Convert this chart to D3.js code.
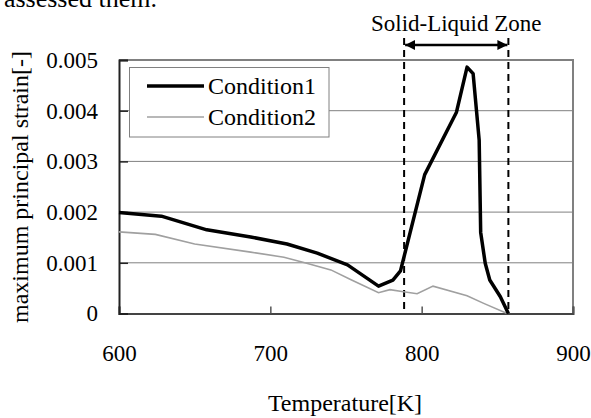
<!DOCTYPE html>
<html>
<head>
<meta charset="utf-8">
<script src="https://cdn.jsdelivr.net/npm/d3@7"></script>
<style>
  body { margin: 0; background: #fff; }
  svg { display: block; font-family: "Liberation Serif", "Times New Roman", serif; }
</style>
</head>
<body>
<div class="chart"></div>
<script>
// Condition1 (thick black) - temperature [K] and strain
const temp1 = [600, 628, 658, 687, 711, 731, 751, 771.5, 781, 786, 802, 823, 830, 834, 838, 839, 842, 845, 852, 857.3];
const strain1 = [0.00199, 0.00192, 0.00165, 0.00151, 0.00137, 0.00119, 0.00096, 0.00054, 0.00066, 0.00084,
                 0.00274, 0.00397, 0.00486, 0.00473, 0.00342, 0.00160, 0.00099, 0.00066, 0.00033, 0];

// Condition2 (thin gray)
const temp2 = [600, 624, 650, 687, 709, 724, 740, 753, 771.5, 779, 788, 797, 807.5, 830, 841, 856.5];
const strain2 = [0.00161, 0.00156, 0.00137, 0.00121, 0.00111, 0.00099, 0.00086, 0.00067, 0.00041, 0.00047,
                 0.00043, 0.00039, 0.00054, 0.00035, 0.00020, 0];

const xTicks = [600, 700, 800, 900];
const yTicks = [0, 0.001, 0.002, 0.003, 0.004, 0.005];
const seriesNames = ["Condition1", "Condition2"];
const zoneRange = [788.4, 857.3]; // solid-liquid zone bounds

const width = 591;
const height = 418;
const plotLeft = 119, plotRight = 573, plotTop = 60, plotBottom = 313.5;

const svg = d3.select(".chart")
    .append("svg")
    .attr("width", width)
    .attr("height", height);

const x = d3.scaleLinear().domain([600, 900]).range([plotLeft, plotRight]);
const y = d3.scaleLinear().domain([0, 0.005]).range([plotBottom, plotTop]);

// clipped line of the surrounding paper text
svg.append("text")
    .attr("x", 157)
    .attr("y", 7)
    .attr("text-anchor", "end")
    .attr("font-size", 26)
    .text("assessed them.");

// gridlines
svg.append("g")
    .selectAll("line")
    .data(yTicks.filter(d => d > 0 && d < 0.005))
    .join("line")
    .attr("x1", plotLeft).attr("x2", plotRight)
    .attr("y1", d => y(d)).attr("y2", d => y(d))
    .attr("stroke", "#808080")
    .attr("stroke-width", 1);

// top and right frame
svg.append("path")
    .attr("d", `M${plotLeft},${plotTop}H${plotRight}V${plotBottom}`)
    .attr("fill", "none")
    .attr("stroke", "#808080")
    .attr("stroke-width", 2);

// axes, ticks pointing inward
const yAxis = d3.axisLeft(y)
    .tickValues(yTicks)
    .tickFormat(d => d === 0 ? "0" : d3.format(".3f")(d))
    .tickSize(-9)
    .tickPadding(21);
const xAxis = d3.axisBottom(x)
    .tickValues(xTicks)
    .tickSize(-7)
    .tickPadding(31);

const gx = svg.append("g")
    .attr("transform", `translate(0,${plotBottom})`)
    .call(xAxis)
    .attr("font-family", "Liberation Serif")
    .attr("font-size", 23);
gx.select(".domain").attr("stroke", "#444").attr("stroke-width", 2);
gx.selectAll(".tick line").attr("stroke", "#555").attr("stroke-width", 1.5);

const gy = svg.append("g")
    .attr("transform", `translate(${plotLeft},0)`)
    .call(yAxis)
    .attr("font-family", "Liberation Serif")
    .attr("font-size", 23);
gy.select(".domain").attr("stroke", "#222").attr("stroke-width", 2);
gy.selectAll(".tick line").attr("stroke", "#222").attr("stroke-width", 1.5);

svg.selectAll(".tick text").attr("fill", "#000");

// axis titles
svg.append("text")
    .attr("x", (plotLeft + plotRight) / 2 - 1)
    .attr("y", 411)
    .attr("text-anchor", "middle")
    .attr("font-size", 24)
    .text("Temperature[K]");

svg.append("text")
    .attr("transform", "translate(28,187) rotate(-90)")
    .attr("text-anchor", "middle")
    .attr("font-size", 24)
    .text("maximum principal strain[-]");

// solid-liquid zone markers
svg.append("g")
    .selectAll("line")
    .data(zoneRange)
    .join("line")
    .attr("x1", d => x(d)).attr("x2", d => x(d))
    .attr("y1", 38).attr("y2", plotBottom)
    .attr("stroke", "#000")
    .attr("stroke-width", 2)
    .attr("stroke-dasharray", "7,5");

svg.append("defs").append("marker")
    .attr("id", "arrow")
    .attr("viewBox", "0 0 10 10")
    .attr("refX", 10).attr("refY", 5)
    .attr("markerWidth", 4).attr("markerHeight", 4)
    .attr("orient", "auto-start-reverse")
    .append("path")
    .attr("d", "M0,0L10,5L0,10z")
    .attr("fill", "#000");

svg.append("line")
    .attr("x1", x(zoneRange[0]) + 1).attr("x2", x(zoneRange[1]) - 1)
    .attr("y1", 45).attr("y2", 45)
    .attr("stroke", "#000")
    .attr("stroke-width", 2.5)
    .attr("marker-start", "url(#arrow)")
    .attr("marker-end", "url(#arrow)");

svg.append("text")
    .attr("x", (x(zoneRange[0]) + x(zoneRange[1])) / 2)
    .attr("y", 31)
    .attr("text-anchor", "middle")
    .attr("font-size", 23)
    .text("Solid-Liquid Zone");

// data lines
const line = d3.line().x(d => x(d[0])).y(d => y(d[1]));

svg.append("path")
    .datum(d3.zip(temp2, strain2))
    .attr("d", line)
    .attr("fill", "none")
    .attr("stroke", "#a0a0a0")
    .attr("stroke-width", 1.6);

svg.append("path")
    .datum(d3.zip(temp1, strain1))
    .attr("d", line)
    .attr("fill", "none")
    .attr("stroke", "#000")
    .attr("stroke-width", 3.5)
    .attr("stroke-linejoin", "round");

// legend
const legend = svg.append("g");
legend.append("rect")
    .attr("x", 129.5).attr("y", 67.5)
    .attr("width", 199.5).attr("height", 69.5)
    .attr("fill", "#fff")
    .attr("stroke", "#808080")
    .attr("stroke-width", 1);

const legendRows = legend.selectAll("g.row")
    .data(seriesNames)
    .join("g")
    .attr("class", "row")
    .attr("transform", (d, i) => `translate(0,${86 + i * 31})`);

legendRows.append("line")
    .attr("x1", 147).attr("x2", 204)
    .attr("stroke", (d, i) => i === 0 ? "#000" : "#a0a0a0")
    .attr("stroke-width", (d, i) => i === 0 ? 3.5 : 1.6);

legendRows.append("text")
    .attr("x", 208)
    .attr("y", 8)
    .attr("font-size", 24)
    .text(d => d);
</script>
</body>
</html>
